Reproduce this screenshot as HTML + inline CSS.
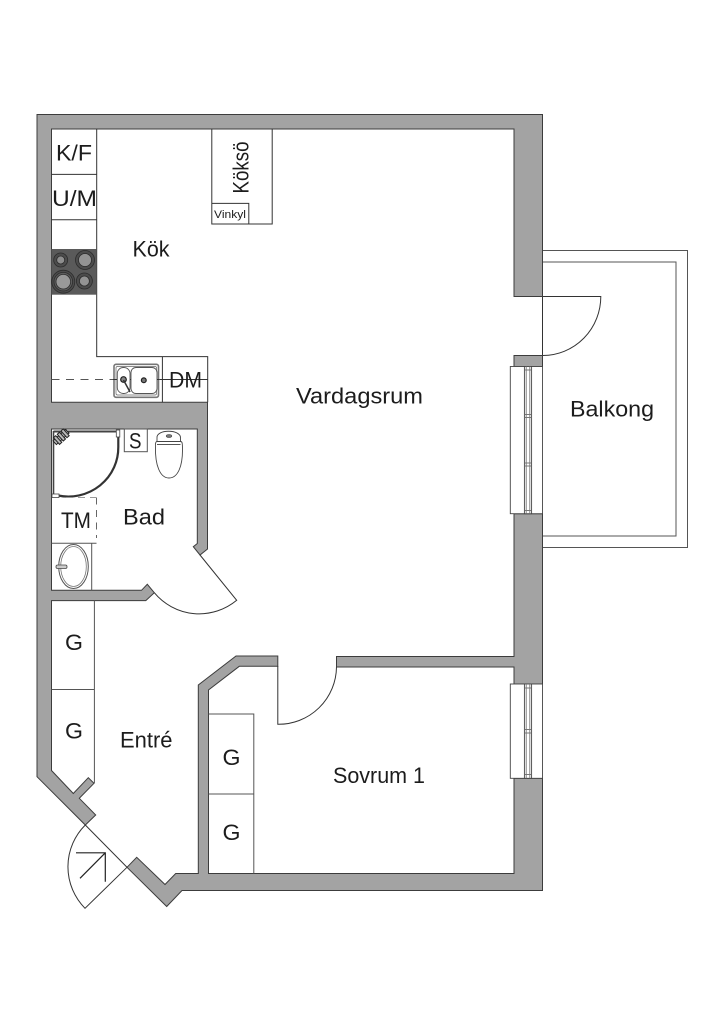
<!DOCTYPE html>
<html><head><meta charset="utf-8"><style>
html,body{margin:0;padding:0;background:#fff}
svg{display:block}
text{font-family:"Liberation Sans",sans-serif;fill:#1c1c1c;font-size:22.5px;text-anchor:start}
.w{fill:#a3a3a3;stroke:#3c3c3c;stroke-width:1}
.l{fill:none;stroke:#555;stroke-width:1}
.k{fill:none;stroke:#333;stroke-width:1}
</style></head><body>
<svg width="724" height="1024" viewBox="0 0 724 1024" xmlns="http://www.w3.org/2000/svg">
<rect width="724" height="1024" fill="#fff"/>
<!-- balcony -->
<path class="l" d="M543 250.500H687.500V547.500H543M543 262H676V536H543"/>
<path class="k" d="M542.500 296V356"/>
<!-- walls -->
<path class="w" d="M37 114.500H542.500V296.500H514V129H51.500V402.300H207.500V549L200 555L193.300 546.700L197.300 543.500V429H51.500V590.300H141.500L147.300 584.300L154.300 592.700L145.800 600.600H51.500V770.500L73.300 793.500L88.300 777.700L94 783.300L79.300 798.300L95.700 815L85.300 825L37 776.700Z"/>
<path class="w" d="M127 867.300L136.700 857.300L165 884.500L175.700 873.500H198.300V685L236 656H277.800V666.300H239.300L208.500 690V873.500H514V778.300H542.500V890.500H182L166.700 906.500Z"/>
<path class="w" d="M514 513.700H542.500V684H514V667H336.500V656.500H514Z"/>
<rect class="w" x="514" y="355.500" width="28.500" height="11"/>
<!-- balcony door -->
<path class="k" d="M543 296.500H600.800A58 59 0 0 1 543 355.500"/>
<!-- windows -->
<g fill="#fff" stroke="#444" stroke-width="0.9">
<rect x="510.300" y="366.500" width="32.200" height="147.200"/>
<rect x="524.400" y="366.500" width="7.200" height="147.200"/>
<path d="M526.200 366.500V513.700M529.800 366.500V513.700M524.400 370H531.600M524.400 414.500H531.600M524.400 417.500H531.600M524.400 463H531.600M524.400 466H531.600M524.400 510.500H531.600" fill="none" stroke="#777"/>
<rect x="510.300" y="684" width="32.200" height="94.300"/>
<rect x="524.400" y="684" width="7.200" height="94.300"/>
<path d="M526.200 684V778.300M529.800 684V778.300M524.400 688H531.600M524.400 729.500H531.600M524.400 733H531.600M524.400 774.500H531.600" fill="none" stroke="#777"/>
</g>
<!-- kitchen -->
<path class="k" d="M96.700 129V356.600H207.700V402.300M162.400 356.600V402.300M51.500 174.400H96.700M51.500 219.800H96.700"/>
<path class="k" d="M211.800 129V224H272.200V129M211.800 203.400H248.800V224"/>
<rect x="51.500" y="249" width="45.200" height="45.700" fill="#5a5a5a"/>
<g stroke="#2c2c2c" stroke-width="0.8">
<circle cx="60.700" cy="260" r="7" fill="#4c4c4c"/><circle cx="60.700" cy="260" r="4" fill="#8e8e8e"/>
<circle cx="85" cy="260" r="9.500" fill="#4c4c4c"/><circle cx="85" cy="260" r="6.500" fill="#939393"/>
<circle cx="63.300" cy="281.700" r="11.500" fill="#4c4c4c"/><circle cx="63.300" cy="281.700" r="9.300" fill="#5c5c5c"/><circle cx="63.300" cy="281.700" r="7.300" fill="#999"/>
<circle cx="84.400" cy="281" r="8" fill="#4c4c4c"/><circle cx="84.400" cy="281" r="5" fill="#939393"/>
</g>
<path d="M51.500 379.500H113" fill="none" stroke="#555" stroke-width="1" stroke-dasharray="8 6.500"/>
<path d="M159 379.500H207.500" class="k"/>
<rect x="114" y="364.300" width="44.500" height="33" rx="2" fill="#fff" stroke="#777" stroke-width="1.600"/>
<rect x="116" y="366.500" width="40.500" height="28.500" rx="1.500" fill="none" stroke="#666" stroke-width="0.700"/>
<rect x="117.300" y="367.500" width="12.700" height="26" rx="6" fill="#fff" stroke="#555" stroke-width="0.900"/>
<rect x="131" y="367.500" width="26" height="26" rx="5" fill="#fff" stroke="#555" stroke-width="0.900"/>
<path d="M113 379.500H117M130 379.500H131M157 379.500H159" class="k"/>
<circle cx="123.500" cy="379.500" r="2.800" fill="#888" stroke="#222" stroke-width="1.200"/>
<path d="M123.500 380L130 392" stroke="#333" stroke-width="1.500"/>
<circle cx="143.800" cy="380.300" r="2.400" fill="#777" stroke="#222" stroke-width="1.200"/>
<!-- bathroom -->
<path d="M53.500 431.500H118" stroke="#444" stroke-width="2" fill="none"/>
<path d="M53.500 431V495" stroke="#444" stroke-width="1.600" fill="none"/>
<path d="M118.300 436V447A50 49 0 0 1 58 495.500" stroke="#333" stroke-width="2.200" fill="none"/>
<rect x="116.300" y="430" width="3.500" height="7" fill="#fff" stroke="#444" stroke-width="0.800"/>
<rect x="52" y="494" width="7" height="3.500" fill="#fff" stroke="#444" stroke-width="0.800"/>
<g transform="rotate(-42 61 437)" fill="#bbb" stroke="#222" stroke-width="1"><rect x="52.500" y="434.500" width="17" height="5"/><rect x="55" y="432.500" width="3" height="9"/><rect x="60" y="432.500" width="3" height="9"/><rect x="65" y="432.500" width="3" height="9"/></g>
<rect class="l" x="124.300" y="429" width="23" height="22.700"/>
<path d="M157 438C156 429 181 429 180.500 438V441.500H157Z" fill="#fff" stroke="#444" stroke-width="0.900"/>
<path d="M155.500 447C155 441 157 441.500 157 441.500H180.500C182 441.500 182.500 442 182.500 450C182.500 466 178 478 169 478C160 478 155 465 155.500 447Z" fill="#fff" stroke="#444" stroke-width="0.900"/>
<path d="M157 444.500H180.500" class="l"/>
<ellipse cx="169" cy="436" rx="2.800" ry="1.500" fill="#777" stroke="#333" stroke-width="0.600"/>
<path d="M96.500 497.500V538" fill="none" stroke="#666" stroke-width="1" stroke-dasharray="7 5.500"/>
<path d="M66 497.500H96" fill="none" stroke="#999" stroke-width="1" stroke-dasharray="7 5"/>
<path class="l" d="M51.500 543.300H96.500M91.700 543.300V590.300"/>
<ellipse cx="73.500" cy="566.500" rx="14.800" ry="22" fill="#fff" stroke="#555" stroke-width="1"/>
<ellipse cx="73.500" cy="566.500" rx="12.800" ry="20" fill="#fff" stroke="#777" stroke-width="0.800"/>
<rect x="56" y="565" width="11" height="3.500" rx="1.500" fill="#ccc" stroke="#444" stroke-width="0.800"/>
<!-- bath door -->
<path class="k" d="M200 555L236.700 600.300A58.500 58.500 0 0 1 154.300 592.700"/>
<!-- entry closets -->
<path class="l" d="M94.400 600.600V783.300M51.500 689.500H94.400"/>
<!-- entrance door -->
<path class="k" d="M85.300 825L127 867.300L85 908.300A59 59 0 0 1 85.300 825"/>
<path d="M80 878.300L105.300 852.800M76 852.800H105.300V881.700" fill="none" stroke="#222" stroke-width="1.200"/>
<!-- bedroom door & closets -->
<path class="k" d="M277.800 666V724.300A58 58 0 0 0 336.500 667"/>
<path class="l" d="M208.500 714H253.800V873.500M208.500 794H253.800"/>
<!-- labels -->
<text x="56" y="160.300" textLength="36" lengthAdjust="spacingAndGlyphs">K/F</text>
<text x="52" y="206" textLength="45" lengthAdjust="spacingAndGlyphs">U/M</text>
<text x="132.500" y="256.700" textLength="37" lengthAdjust="spacingAndGlyphs">Kök</text>
<text transform="translate(248.500 193.500) rotate(-90)" textLength="52" lengthAdjust="spacingAndGlyphs">Köksö</text>
<text x="214" y="218" style="font-size:11px" textLength="32" lengthAdjust="spacingAndGlyphs">Vinkyl</text>
<text x="169" y="387.500" textLength="33" lengthAdjust="spacingAndGlyphs">DM</text>
<text x="296" y="403.300" textLength="127" lengthAdjust="spacingAndGlyphs">Vardagsrum</text>
<text x="570" y="416.500" textLength="84" lengthAdjust="spacingAndGlyphs">Balkong</text>
<text x="129" y="448.500" textLength="12.500" lengthAdjust="spacingAndGlyphs">S</text>
<text x="123" y="524.500" textLength="42" lengthAdjust="spacingAndGlyphs">Bad</text>
<text x="61" y="528" textLength="30" lengthAdjust="spacingAndGlyphs">TM</text>
<text x="65" y="650" textLength="18" lengthAdjust="spacingAndGlyphs">G</text>
<text x="65" y="738.500" textLength="18" lengthAdjust="spacingAndGlyphs">G</text>
<text x="120" y="747.500" textLength="52.500" lengthAdjust="spacingAndGlyphs">Entré</text>
<text x="222.500" y="765" textLength="18" lengthAdjust="spacingAndGlyphs">G</text>
<text x="222.500" y="840" textLength="18" lengthAdjust="spacingAndGlyphs">G</text>
<text x="333" y="783" textLength="92" lengthAdjust="spacingAndGlyphs">Sovrum 1</text>
</svg>
</body></html>
